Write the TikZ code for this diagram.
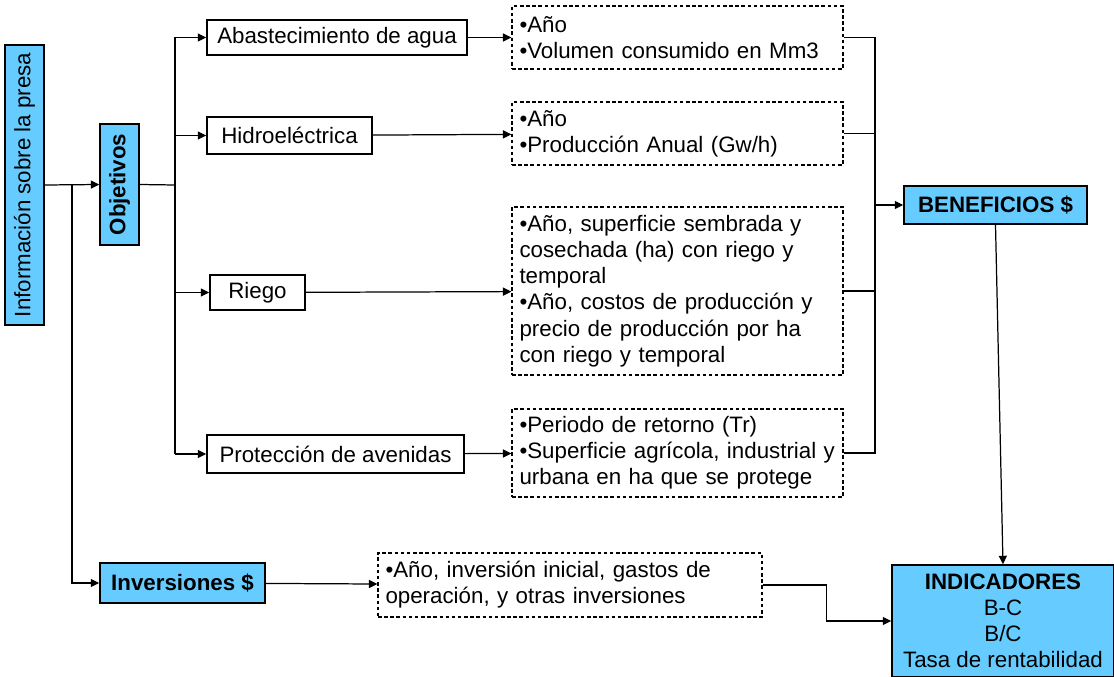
\documentclass[tikz,border=0pt]{standalone}
\usepackage{fontspec}
\setmainfont{Liberation Sans}
\usepackage{tikz}
\usetikzlibrary{positioning}
\usetikzlibrary{arrows.meta}

\definecolor{boxcyan}{RGB}{102,204,255}

\tikzset{
  every node/.style={font=\fontsize{12.7}{14.9}\selectfont, inner sep=0pt},
  plainbox/.style={draw, line width=0.8pt, align=center},
  bluebox/.style={draw, line width=0.8pt, fill=boxcyan, align=center},
  databox/.style={draw, line width=0.6pt, dash pattern=on 2pt off 1.5pt, align=left, inner xsep=0.15cm},
  arr/.style={-{Triangle[length=1.7mm,width=1.6mm]}, line width=0.7pt},
  wire/.style={line width=0.7pt}
}

\begin{document}
\begin{tikzpicture}

                \useasboundingbox (0,0) rectangle (22.28,-13.54);

                % Nodes
                \node at (0.49,-3.7) (info) [bluebox, rotate=90, minimum width=5.6cm, minimum height=0.78cm] {Información sobre la presa};
                \node at (2.39,-3.69) (obj) [bluebox, rotate=90, minimum width=2.42cm, minimum height=0.78cm] {\textbf{Objetivos}};
                \node at (3.65,-11.66) (inv) [bluebox, minimum width=3.3cm, minimum height=0.8cm] {\textbf{Inversiones \$}};

                \node at (6.74,-0.75) (agua) [plainbox, minimum width=5.2cm, minimum height=0.7cm] {Abastecimiento de agua};
                \node at (5.79,-2.71) (hidro) [plainbox, minimum width=3.3cm, minimum height=0.74cm] {Hidroeléctrica};
                \node at (5.15,-5.85) (riego) [plainbox, minimum width=1.9cm, minimum height=0.7cm] {Riego};
                \node at (6.71,-9.08) (aven) [plainbox, minimum width=5.14cm, minimum height=0.76cm] {Protección de avenidas};

                \node at (13.55,-0.75) (datagua) [databox, text width=6.32cm, minimum height=1.26cm] {•Año\\•Volumen consumido en Mm3};
                \node at (13.55,-2.67) (dathidro) [databox, text width=6.32cm, minimum height=1.26cm] {•Año\\•Producción Anual (Gw/h)};
                \node at (13.55,-5.82) (datriego) [databox, text width=6.32cm, minimum height=3.36cm] {•Año, superficie sembrada y\\cosechada (ha) con riego y\\temporal\\•Año, costos de producción y\\precio de producción por ha\\con riego y temporal};
                \node at (13.55,-9.06) (dataven) [databox, text width=6.32cm, minimum height=1.76cm] {•Periodo de retorno (Tr)\\•Superficie agrícola, industrial y\\urbana en ha que se protege};
                \node at (11.4,-11.7) (datinv) [databox, text width=7.38cm, minimum height=1.28cm] {•Año, inversión inicial, gastos de\\operación, y otras inversiones};

                \node at (19.91,-4.1) (benef) [bluebox, minimum width=3.66cm, minimum height=0.76cm] {\textbf{BENEFICIOS \$}};
                \node at (20.06,-12.42) (ind) [bluebox, minimum width=4.44cm, minimum height=2.24cm] {\textbf{INDICADORES}\\B-C\\B/C\\Tasa de rentabilidad};

                % Junctions
                \coordinate (split) at (1.44,-3.7);
                \coordinate (busL) at (3.5,-3.7);
                \coordinate (busR) at (17.5,-4.1);

                % Arrows
                \draw[arr] (info.south) -- (obj.north);
                \draw[arr] (split) |- (inv.west);
                \draw[wire] (obj.south) -- (busL);
                \draw[wire] (agua.west -| busL) -- (aven.west -| busL);
                \draw[arr] (agua.west -| busL) -- (agua.west);
                \draw[arr] (hidro.west -| busL) -- (hidro.west);
                \draw[arr] (riego.west -| busL) -- (riego.west);
                \draw[arr] (aven.west -| busL) -- (aven.west);

                \draw[arr] (agua) -- (datagua);
                \draw[arr] (hidro) -- (dathidro);
                \draw[arr] (riego) -- (datriego);
                \draw[arr] (aven) -- (dataven);

                \draw[wire] (datagua.east) -- (datagua.east -| busR) -- (dataven.east -| busR) -- (dataven.east);
                \draw[wire] (dathidro.east) -- (dathidro.east -| busR);
                \draw[wire] (datriego.east) -- (datriego.east -| busR);
                \draw[arr] (busR) -- (benef.west);
                \draw[arr] (benef.south) -- (ind.north);

                \draw[arr] (inv) -- (datinv);
                \draw[arr] (datinv.east) -- ++(1.28,0) |- (ind.west);

            \end{tikzpicture}
\end{document}
